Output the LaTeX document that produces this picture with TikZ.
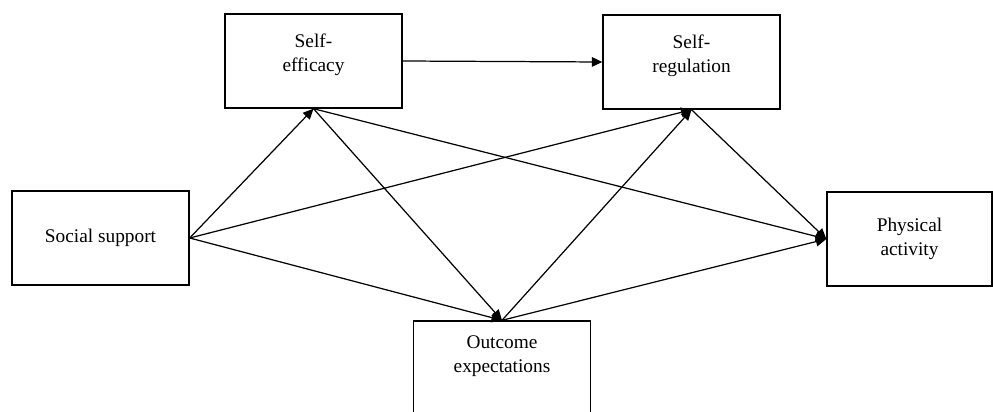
\documentclass[tikz,border=0pt]{standalone}
\usepackage{fontspec}
\setmainfont{Liberation Serif}
\usetikzlibrary{arrows.meta,positioning}

\tikzset{
  factor/.style={draw,line width=0.8pt,minimum width=3.54cm,minimum height=1.88cm,
                 align=center,inner sep=2pt,font=\fontsize{11}{13.7}\selectfont},
  path/.style={line width=0.7pt,-{Triangle[length=6pt,width=5.5pt]}}
}

\begin{document}
\begin{tikzpicture}[x=0.02cm,y=-0.02cm]
  \useasboundingbox (0,0) rectangle (993,412);                  % picture frame

  \node[factor] (eff)  at (313.5,61)  {Self-\\efficacy\\[-4pt]};        % Self-efficacy box
  \node[factor] (reg)  at (691.5,62)  {Self-\\regulation\\[-4pt]};      % Self-regulation box
  \node[factor] (soc)  at (100.5,238) {Social support};                 % Social support box
  \node[factor,minimum width=3.3cm] (phys) at (909.5,239) {Physical\\activity};  % Physical activity box
  \node[factor] (out)  at (502,368)   {Outcome\\expectations\\[2pt]};   % Outcome box (cut at bottom)

  \draw[path] (eff.east) -- (reg.west);          % efficacy to regulation
  \draw[path] (soc.east) -- (eff.south);         % support to efficacy
  \draw[path] (soc.east) -- (reg.south);         % support to regulation
  \draw[path] (soc.east) -- (out.north);         % support to outcome
  \draw[path] (eff.south) -- (out.north);        % efficacy to outcome
  \draw[path] (eff.south) -- (phys.west);        % efficacy to activity
  \draw[path] (out.north) -- (reg.south);        % outcome to regulation
  \draw[path] (out.north) -- (phys.west);        % outcome to activity
  \draw[path] (reg.south) -- (phys.west);        % regulation to activity
\end{tikzpicture}
\end{document}
